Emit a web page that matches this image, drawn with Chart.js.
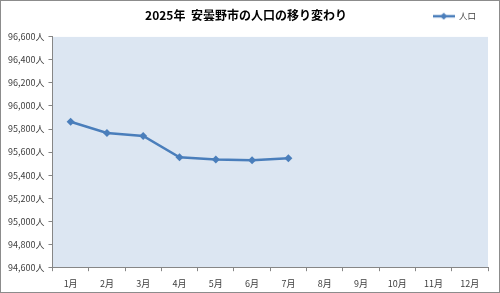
<!DOCTYPE html>
<html>
<head>
<meta charset="utf-8">
<script src="https://cdn.jsdelivr.net/npm/chart.js@4/dist/chart.umd.min.js"></script>
<style>
  html, body { margin: 0; padding: 0; background: #fff; }
  #wrap { width: 500px; height: 293px; }
</style>
</head>
<body>
<div id="wrap"><canvas id="popChart" width="500" height="293"></canvas></div>
<script>
// data
const months = ["1月", "2月", "3月", "4月", "5月", "6月", "7月", "8月", "9月", "10月", "11月", "12月"];
const population = [95863, 95766, 95740, 95554, 95536, 95528, 95546, null, null, null, null, null];
const yMin = 94600;
const yMax = 96600;
const yStep = 200;

const lineColor = "#4A7EBB";
const axisColor = "#868686";
const jpFont = "'Noto Sans CJK JP', 'Noto Sans', sans-serif";

// legend marker: short line with a diamond in the middle
const marker = document.createElement("canvas");
marker.width = 22;
marker.height = 8;
(function () {
    const c = marker.getContext("2d");
    c.strokeStyle = lineColor;
    c.lineWidth = 2.5;
    c.beginPath();
    c.moveTo(0, 4);
    c.lineTo(22, 4);
    c.stroke();
    c.fillStyle = lineColor;
    c.beginPath();
    c.moveTo(11, 0.5);
    c.lineTo(14.5, 4);
    c.lineTo(11, 7.5);
    c.lineTo(7.5, 4);
    c.closePath();
    c.fill();
})();

// white background, outer frame and plot area fill
const backdrop = {
    id: "backdrop",
    beforeDraw(chart) {
        const { ctx, chartArea } = chart;
        ctx.save();
        ctx.fillStyle = "#ffffff";
        ctx.fillRect(0, 0, chart.width, chart.height);
        ctx.fillStyle = "#DCE6F2";
        ctx.fillRect(chartArea.left, chartArea.top, chartArea.right - chartArea.left, chartArea.bottom - chartArea.top);
        ctx.strokeStyle = "#8c8c8c";
        ctx.lineWidth = 1;
        ctx.strokeRect(0.5, 0.5, chart.width - 1, chart.height - 1);
        ctx.restore();
    }
};

const ctx = document.getElementById("popChart").getContext("2d");
new Chart(ctx, {
    type: "line",
    data: {
        labels: months,
        datasets: [{
            label: "人口",
            data: population,
            borderColor: lineColor,
            backgroundColor: lineColor,
            borderWidth: 2.5,
            pointStyle: "rectRot",
            pointRadius: 4,
            pointBorderWidth: 0,
            tension: 0,
            fill: false
        }]
    },
    options: {
        responsive: false,
        animation: false,
        layout: { padding: { left: 4, right: 12, top: 0, bottom: -3 } },
        plugins: {
            title: {
                display: true,
                text: "2025年  安曇野市の人口の移り変わり",
                color: "#000",
                font: { family: jpFont, size: 12, weight: "bold" },
                padding: { top: -22, bottom: 14 }
            },
            legend: {
                display: true,
                position: "top",
                align: "end",
                weight: 3000,
                labels: {
                    usePointStyle: true,
                    pointStyle: marker,
                    pointStyleWidth: 22,
                    boxHeight: 8,
                    padding: 12,
                    color: "#404040",
                    font: { family: jpFont, size: 8.5 }
                }
            },
            tooltip: { enabled: false }
        },
        scales: {
            x: {
                offset: true,
                grid: {
                    offset: true,
                    drawOnChartArea: false,
                    drawTicks: true,
                    tickLength: 4,
                    color: axisColor
                },
                border: { color: axisColor, width: 1 },
                ticks: {
                    color: "#404040",
                    padding: 7,
                    maxRotation: 0,
                    autoSkip: false,
                    font: { family: jpFont, size: 9 }
                }
            },
            y: {
                min: yMin,
                max: yMax,
                grid: {
                    drawOnChartArea: false,
                    drawTicks: true,
                    tickLength: 4,
                    color: axisColor
                },
                border: { color: axisColor, width: 1 },
                ticks: {
                    stepSize: yStep,
                    color: "#404040",
                    padding: 4,
                    font: { family: jpFont, size: 9 },
                    callback: (v) => v.toLocaleString("en-US") + "人"
                }
            }
        }
    },
    plugins: [backdrop]
});
</script>
</body>
</html>
